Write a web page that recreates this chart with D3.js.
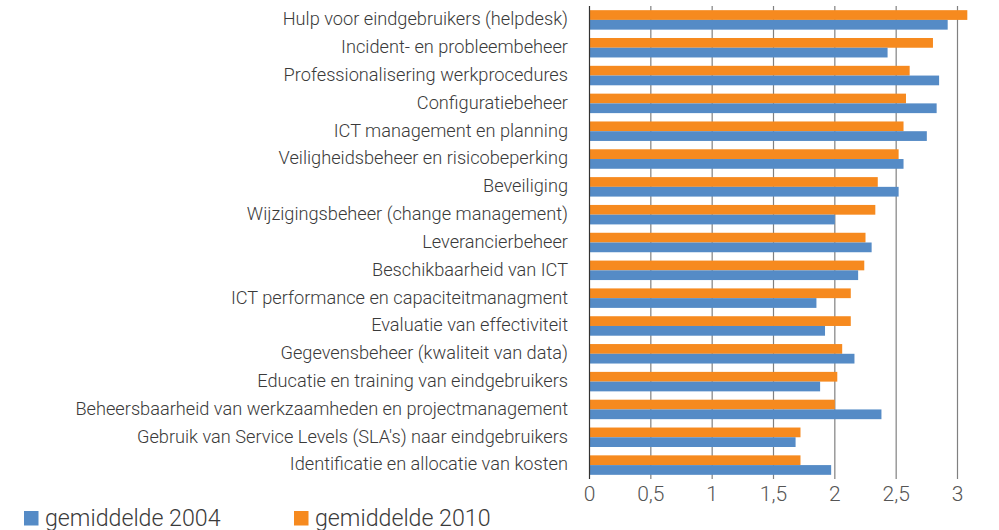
<!DOCTYPE html>
<html>
<head>
<meta charset="utf-8">
<script src="https://cdn.jsdelivr.net/npm/d3@7"></script>
<style>
  body { margin: 0; background: #fff; }
  svg { display: block; font-family: Roboto, "Open Sans", sans-serif; font-weight: 300; }
</style>
</head>
<body>
<svg width="999" height="530"></svg>
<script>
var categories = [
  "Hulp voor eindgebruikers (helpdesk)",
  "Incident- en probleembeheer",
  "Professionalisering werkprocedures",
  "Configuratiebeheer",
  "ICT management en planning",
  "Veiligheidsbeheer en risicobeperking",
  "Beveiliging",
  "Wijzigingsbeheer (change management)",
  "Leverancierbeheer",
  "Beschikbaarheid van ICT",
  "ICT performance en capaciteitmanagment",
  "Evaluatie van effectiviteit",
  "Gegevensbeheer (kwaliteit van data)",
  "Educatie en training van eindgebruikers",
  "Beheersbaarheid van werkzaamheden en projectmanagement",
  "Gebruik van Service Levels (SLA's) naar eindgebruikers",
  "Identificatie en allocatie van kosten"
];
var avg2010 = [3.08, 2.80, 2.61, 2.58, 2.56, 2.52, 2.35, 2.33, 2.25, 2.24, 2.13, 2.13, 2.06, 2.02, 2.00, 1.72, 1.72];
var avg2004 = [2.92, 2.43, 2.85, 2.83, 2.75, 2.56, 2.52, 2.00, 2.30, 2.19, 1.85, 1.92, 2.16, 1.88, 2.38, 1.68, 1.97];
var xTicks = [0, 0.5, 1, 1.5, 2, 2.5, 3];
var seriesNames = ["gemiddelde 2004", "gemiddelde 2010"];

var svg = d3.select("svg"),
    plotL = 589.5, plotR = 957.5, plotT = 6, plotB = 479;

var x = d3.scaleLinear().domain([0, 3]).range([plotL, plotR]);
var y = d3.scaleBand().domain(categories).range([plotT, plotB]).paddingInner(0.3).paddingOuter(0.15);
var sub = d3.scaleBand().domain(["2010", "2004"]).range([0, y.bandwidth()]);
var color = { "2004": "#558bc6", "2010": "#f68a1f" };

// gridlines
svg.append("g").selectAll("line")
  .data(xTicks.slice(1))
  .enter().append("line")
  .attr("x1", function (d) { return x(d); })
  .attr("x2", function (d) { return x(d); })
  .attr("y1", plotT).attr("y2", plotB)
  .attr("stroke", "#808080").attr("stroke-width", 1.2);

var rows = categories.map(function (c, i) {
  return { cat: c, "2010": avg2010[i], "2004": avg2004[i] };
});

var g = svg.append("g").selectAll("g")
  .data(rows)
  .enter().append("g")
  .attr("transform", function (d) { return "translate(0," + y(d.cat) + ")"; });

g.selectAll("rect")
  .data(function (d) { return ["2010", "2004"].map(function (k) { return { key: k, value: d[k] }; }); })
  .enter().append("rect")
  .attr("x", x(0))
  .attr("y", function (d) { return sub(d.key); })
  .attr("width", function (d) { return x(d.value) - x(0); })
  .attr("height", sub.bandwidth())
  .attr("fill", function (d) { return color[d.key]; });

// vertical axis line
svg.append("line")
  .attr("x1", plotL).attr("x2", plotL)
  .attr("y1", plotT).attr("y2", plotB)
  .attr("stroke", "#333").attr("stroke-width", 1.2);

// category labels
svg.append("g").selectAll("text")
  .data(categories)
  .enter().append("text")
  .attr("x", 568)
  .attr("y", function (d) { return y(d) + y.bandwidth() / 2 - 1; })
  .attr("dy", "0.35em")
  .attr("text-anchor", "end")
  .attr("font-size", 18.2)
  .attr("fill", "#3a3a3a")
  .text(function (d) { return d; });

// x tick labels
svg.append("g").selectAll("text")
  .data(xTicks)
  .enter().append("text")
  .attr("x", function (d) { return x(d); })
  .attr("y", 501)
  .attr("text-anchor", "middle")
  .attr("font-size", 21)
  .attr("fill", "#555")
  .text(function (d) { return String(d).replace(".", ","); });

// legend
var legend = svg.append("g").selectAll("g")
  .data(seriesNames)
  .enter().append("g")
  .attr("transform", function (d, i) { return "translate(" + (24 + i * 270) + ",511)"; });

legend.append("rect")
  .attr("width", 14.5).attr("height", 14.5)
  .attr("fill", function (d, i) { return i === 0 ? color["2004"] : color["2010"]; });

legend.append("text")
  .attr("x", 21).attr("y", 14.5)
  .attr("font-size", 23.2)
  .attr("fill", "#3a3a3a")
  .text(function (d) { return d; });
</script>
</body>
</html>
